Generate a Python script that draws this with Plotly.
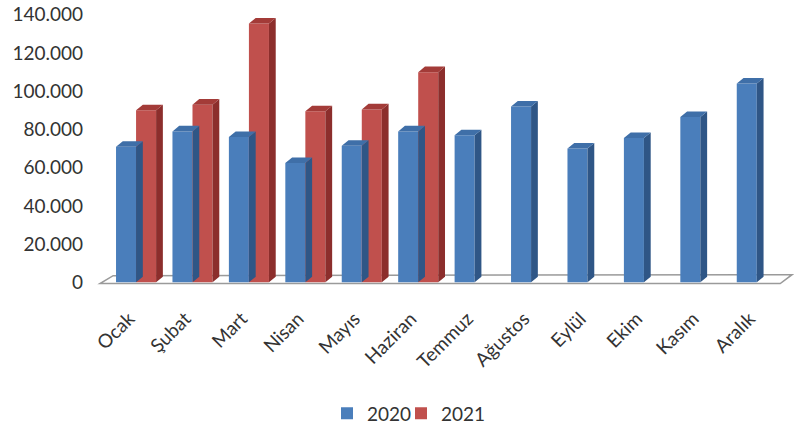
import plotly.graph_objects as go

months = ['Ocak', 'Şubat', 'Mart', 'Nisan', 'Mayıs', 'Haziran',
          'Temmuz', 'Ağustos', 'Eylül', 'Ekim', 'Kasım', 'Aralık']
values_2020 = [71000, 79000, 76000, 62500, 71500, 79000,
               77000, 92000, 70000, 75500, 86500, 104000]
values_2021 = [90000, 93000, 135500, 89500, 90500, 110000,
               None, None, None, None, None, None]

# pseudo-3D geometry (x in category units, dy in value units)
BAR_W = 0.355
DX = 0.12
DY = 2900


def faces(vals, left, width):
    """Side and top faces of each bar, as polygons separated by None."""
    sx, sy, tx, ty = [], [], [], []
    for i, v in enumerate(vals):
        if v is None:
            continue
        xl = i + left
        xr = xl + width
        sx += [xr, xr + DX, xr + DX, xr, xr, None]
        sy += [0, DY, v + DY, v, 0, None]
        tx += [xl, xl + DX, xr + DX, xr, xl, None]
        ty += [v, v + DY, v + DY, v, v, None]
    return sx, sy, tx, ty


series = [
    ('2020', values_2020, -0.40, '#4a7ebb', '#2f5686', '#3f6fa8', 'legend'),
    ('2021', values_2021, -0.045, '#c0504d', '#8c2e2c', '#a33b38', 'legend2'),
]

fig = go.Figure()
idx = list(range(len(months)))
for name, vals, off, front, side, top, leg in series:
    sx, sy, tx, ty = faces(vals, off, BAR_W)
    fig.add_trace(go.Scatter(x=sx, y=sy, fill='toself', fillcolor=side, mode='lines',
                             line=dict(width=0), showlegend=False, hoverinfo='skip'))
    fig.add_trace(go.Scatter(x=tx, y=ty, fill='toself', fillcolor=top, mode='lines',
                             line=dict(width=0), showlegend=False, hoverinfo='skip'))
    fig.add_trace(go.Bar(x=idx, y=vals, name=name, offset=off, width=BAR_W, legend=leg,
                         marker=dict(color=front, line=dict(width=0))))

# floor of the 3D plot
fig.add_shape(type='path', xref='paper', yref='y',
              path='M 0.0,-600 L 0.983,-600 L 1.0,4000 L 0.019,3500 Z',
              fillcolor='white', line=dict(color='#9a9a9a', width=1.5), layer='below')

leg_style = dict(orientation='h', xanchor='left', y=-0.442, yanchor='middle',
                 font=dict(size=19), bgcolor='rgba(0,0,0,0)')

fig.update_layout(
    width=794, height=435,
    barmode='overlay',
    separators=',.',
    paper_bgcolor='white',
    plot_bgcolor='white',
    font=dict(family='Lato, Open Sans, sans-serif', size=19, color='#333333'),
    margin=dict(l=100, r=2, t=11, b=139),
    xaxis=dict(range=[-0.684, 11.579], tickvals=[i - 0.17 for i in idx], ticktext=months,
               tickangle=-45, showgrid=False, zeroline=False, showline=False, ticks='',
               ticklabelstandoff=13, automargin=False),
    yaxis=dict(range=[-4000, 142000], tickvals=list(range(0, 140001, 20000)),
               tickformat=',.0f', showgrid=False, zeroline=False, showline=False,
               ticks='', ticklabelstandoff=16, automargin=False),
    legend=dict(x=(327 - 100) / 692, **leg_style),
    legend2=dict(x=(401 - 100) / 692, **leg_style),
)

fig.write_html("out.html", config={'displayModeBar': False},
               post_script="document.body.style.margin='0';")
